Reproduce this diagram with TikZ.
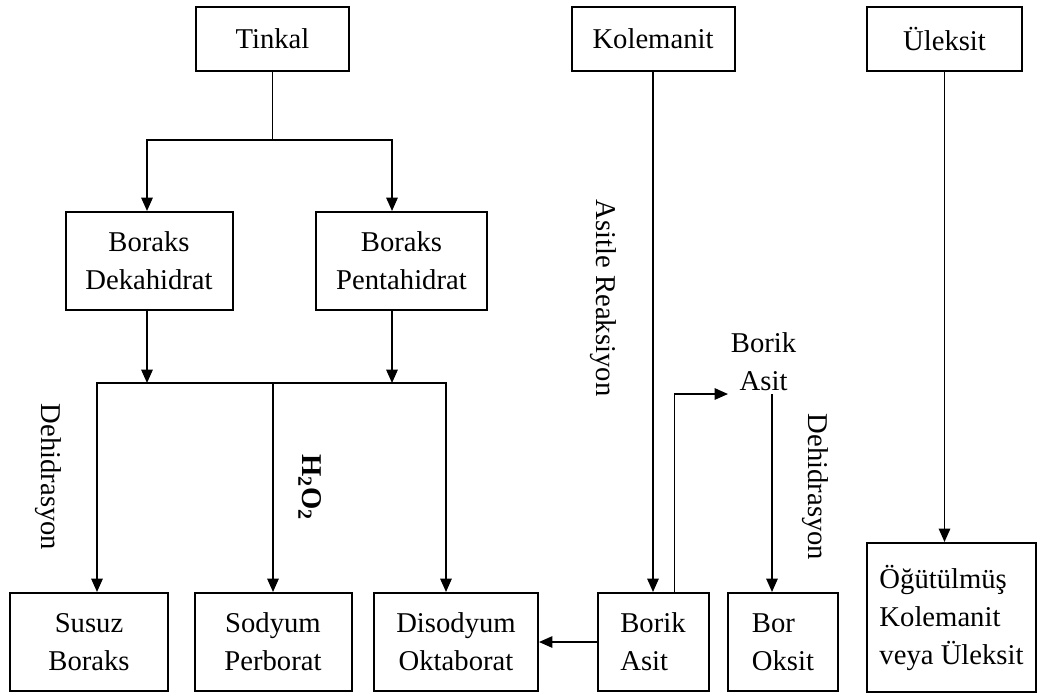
\documentclass[tikz,border=0pt]{standalone}
\usepackage{fontspec}
\setmainfont{Liberation Serif}
\usetikzlibrary{arrows.meta,calc}
\tikzset{
	kutu/.style={draw, line width=1.5pt, align=center, inner sep=2pt, minimum height=73.5pt},
	ustkutu/.style={kutu, minimum height=48pt},
	sol/.style={kutu, align=left},
	ok/.style={line width=1.3pt, -{Triangle[length=10pt,width=8.5pt]}},
	cizgi/.style={line width=1.3pt},
	yan/.style={rotate=-90, inner sep=0pt},
}
\begin{document}
\begin{tikzpicture}[x=0.75pt, y=-0.75pt, font=\fontsize{21.5}{28.5}\selectfont]
	\useasboundingbox (0,0) rectangle (1041,693);
	% ust sira: hammaddeler
	\node[ustkutu, minimum width=114.75pt] (tinkal) at (272.5,39) {Tinkal};
	\node[ustkutu, minimum width=122.25pt] (kolemanit) at (653,39) {Kolemanit};
	\node[ustkutu, minimum width=116.25pt] (uleksit) at (944.5,39) {Üleksit};
	
	% boraks kutulari
	\node[kutu, minimum width=125.25pt] (dekahidrat) at (149,261) {Boraks\\Dekahidrat};
	\node[kutu, minimum width=128.25pt] (pentahidrat) at (401.5,261) {Boraks\\Pentahidrat};
	
	% alt sira: urunler
	\node[kutu, minimum width=118.5pt] (susuz) at (89,642) {Susuz\\Boraks};
	\node[kutu, minimum width=117.75pt] (sodyum) at (273,642) {Sodyum\\Perborat};
	\node[kutu, minimum width=123pt] (disodyum) at (456,642) {Disodyum\\Oktaborat};
	\node[sol, minimum width=83.25pt] (borikkutu) at (653,642) {Borik\\Asit};
	\node[sol, minimum width=82.5pt] (boroksit) at (783,642) {Bor\\Oksit};
	\node[sol, minimum width=126.75pt, minimum height=111.75pt] (ogutulmus) at (951.5,617.5) {Öğütülmüş\\Kolemanit\\veya Üleksit};
	
	% ara urun: borik asit
	\node[align=center, inner sep=2pt, anchor=south west] (borikyazi) at (728,394) {Borik\\Asit};
	
	% tinkal dallanmasi
	\coordinate (ayrim) at (272.5,140);
	\coordinate (dekaust) at ($(dekahidrat.north)+(-2,0)$);
	\coordinate (pentaust) at ($(pentahidrat.north)+(-9.5,0)$);
	\draw[cizgi] (tinkal.south) -- (ayrim);
	\draw[ok] (ayrim) -| (dekaust);
	\draw[ok] (ayrim) -| (pentaust);
	
	% boraks -> urunler
	\coordinate (birlesim) at (273,383);
	\coordinate (dekaalt) at ($(dekahidrat.south)+(-2,0)$);
	\coordinate (pentaalt) at ($(pentahidrat.south)+(-9.5,0)$);
	\draw[ok] (dekaalt) -- (dekaalt |- birlesim);
	\draw[ok] (pentaalt) -- (pentaalt |- birlesim);
	\draw[ok] (birlesim) -| ($(susuz.north)+(8,0)$);
	\draw[ok] (birlesim) -- (sodyum.north);
	\draw[ok] (birlesim) -| ($(disodyum.north)+(-10,0)$);
	
	% kolemanit ve uleksit kollari
	\draw[ok] (kolemanit.south) -- (borikkutu.north);
	\draw[ok] (uleksit.south) -- (uleksit.south |- ogutulmus.north);
	\draw[ok] ($(borikkutu.north)+(21.5,0)$) |- (borikyazi.south west);
	\draw[ok] ($(borikyazi.south west)+(44,0)$) -- ($(boroksit.north)+(-11,0)$);
	\draw[ok] (borikkutu.west) -- (disodyum.east);
	
	% islem etiketleri
	\node[yan] (dehidrasyon1) at (48,477) {Dehidrasyon};
	\node[yan] (hidrojen) at (310,487) {\textbf{H\textsubscript{2}O\textsubscript{2}}};
	\node[yan] (asitle) at (603,298) {Asitle Reaksiyon};
	\node[yan] (dehidrasyon2) at (815,487) {Dehidrasyon};
\end{tikzpicture}
\end{document}
